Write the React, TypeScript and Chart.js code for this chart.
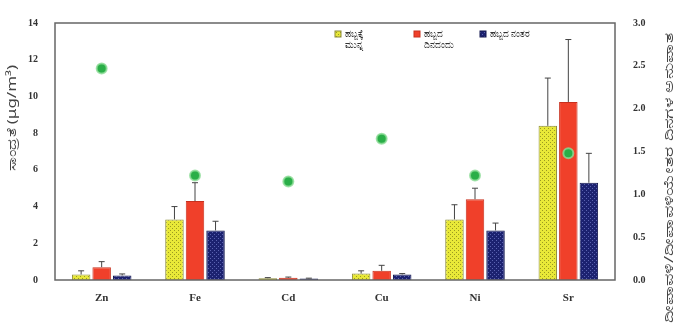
import React, { useEffect, useRef } from "react";
import { Chart, registerables } from "chart.js";

Chart.register(...registerables);

const categories = ["Zn", "Fe", "Cd", "Cu", "Ni", "Sr"];
const seriesNames = [["ಹಬ್ಬಕ್ಕೆ", "ಮುನ್ನ"], ["ಹಬ್ಬದ", "ದಿನದಂದು"], ["ಹಬ್ಬದ ನಂತರ"]];
const beforeValues = [0.3, 3.3, 0.1, 0.35, 3.3, 8.4];
const beforeErr = [0.2, 0.7, 0.03, 0.15, 0.8, 2.6];
const dayValues = [0.7, 4.3, 0.12, 0.5, 4.4, 9.7];
const dayErr = [0.3, 1.0, 0.04, 0.3, 0.6, 3.4];
const afterValues = [0.25, 2.7, 0.08, 0.3, 2.7, 5.3];
const afterErr = [0.08, 0.5, 0.02, 0.05, 0.4, 1.6];
const ratioValues = [2.47, 1.22, 1.15, 1.65, 1.22, 1.48];
const leftTicks = [0, 2, 4, 6, 8, 10, 12, 14];
const rightTicks = [0, 0.5, 1, 1.5, 2, 2.5, 3];
const leftTitle = "ಸಾಂದ್ರತೆ (μg/m³)";
const rightTitle = "ದೀಪಾವಳಿ/ದೀಪಾವಳಿಯೇತರ ದಿನಗಳ ಅನುಪಾತ";

function makePattern(bg: string, dot: string) {
  const c = document.createElement("canvas");
  c.width = 4;
  c.height = 4;
  const g = c.getContext("2d")!;
  g.fillStyle = bg;
  g.fillRect(0, 0, 4, 4);
  g.fillStyle = dot;
  g.fillRect(0, 0, 1, 1);
  g.fillRect(2, 2, 1, 1);
  return g.createPattern(c, "repeat")!;
}

function drawRotated(ctx: any, text: string, cx: number, cy: number, font: string, targetLen: number) {
  ctx.save();
  ctx.font = font;
  const w = ctx.measureText(text).width;
  ctx.translate(cx, cy);
  ctx.rotate(-Math.PI / 2);
  ctx.scale(targetLen / w, 1);
  ctx.fillText(text, 0, 0);
  ctx.restore();
}

export default function App() {
  const ref = useRef<HTMLCanvasElement>(null);
  useEffect(() => {
    const errs = [beforeErr, dayErr, afterErr];
    const vals = [beforeValues, dayValues, afterValues];
    const plugin = {
      id: "extras",
      afterDatasetsDraw(chart: any) {
        const ctx = chart.ctx;
        const ys = chart.scales.y;
        ctx.save();
        ctx.strokeStyle = "#444";
        ctx.lineWidth = 1;
        for (let d = 0; d < 3; d++) {
          const meta = chart.getDatasetMeta(d);
          meta.data.forEach((bar: any, j: number) => {
            const top = ys.getPixelForValue(vals[d][j]);
            const et = ys.getPixelForValue(vals[d][j] + errs[d][j]);
            ctx.beginPath();
            ctx.moveTo(bar.x, top);
            ctx.lineTo(bar.x, et);
            ctx.moveTo(bar.x - 3, et);
            ctx.lineTo(bar.x + 3, et);
            ctx.stroke();
          });
        }
        ctx.restore();
      },
      afterDraw(chart: any) {
        const ctx = chart.ctx;
        const a = chart.chartArea;
        ctx.save();
        ctx.strokeStyle = "#666";
        ctx.lineWidth = 1.5;
        ctx.strokeRect(a.left, a.top, a.right - a.left, a.bottom - a.top);
        // titles
        ctx.fillStyle = "#444";
        ctx.textAlign = "center";
        ctx.textBaseline = "middle";
        drawRotated(ctx, leftTitle, 13, 118, "12px 'Noto Sans', sans-serif", 106);
        drawRotated(ctx, rightTitle, 669, 178, "13px 'Noto Sans', sans-serif", 290);
        // legend
        const xs = [335, 414, 480];
        ctx.font = "9px 'Noto Sans', sans-serif";
        ctx.textAlign = "left";
        seriesNames.forEach((lines, i) => {
          const ds: any = chart.data.datasets[i];
          ctx.fillStyle = ds.backgroundColor;
          ctx.fillRect(xs[i], 31, 6, 6);
          ctx.strokeStyle = ds.borderColor;
          ctx.lineWidth = 1;
          ctx.strokeRect(xs[i], 31, 6, 6);
          ctx.fillStyle = "#333";
          lines.forEach((t, k) => ctx.fillText(t, xs[i] + 10, 34 + k * 11));
        });
        ctx.restore();
      },
    };
    const yellow = makePattern("#e8e838", "#9a9a20");
    const navy = makePattern("#1c2270", "#5a62b0");
    const chart = new Chart(ref.current!, {
      type: "bar",
      data: {
        labels: categories,
        datasets: [
          { type: "bar", label: seriesNames[0].join(" "), data: beforeValues, backgroundColor: yellow as any, borderColor: "#8a8a3a", borderWidth: 1, yAxisID: "y", order: 2 },
          { type: "bar", label: seriesNames[1].join(" "), data: dayValues, backgroundColor: "#f0402a", borderColor: "#c8301e", borderWidth: 1, yAxisID: "y", order: 2 },
          { type: "bar", label: seriesNames[2][0], data: afterValues, backgroundColor: navy as any, borderColor: "#141850", borderWidth: 1, yAxisID: "y", order: 2 },
          { type: "line", label: "ratio", data: ratioValues, showLine: false, pointRadius: 5, pointBackgroundColor: "#2aae48", pointBorderColor: "rgba(140,220,150,0.8)", pointBorderWidth: 2, yAxisID: "y1", order: 1 } as any,
        ],
      },
      options: {
        responsive: false,
        animation: false,
        layout: { padding: { top: 23, left: 0, right: 0, bottom: 0 } },
        datasets: { bar: { categoryPercentage: 0.66, barPercentage: 0.9 } },
        plugins: { legend: { display: false }, tooltip: { enabled: false } },
        scales: {
          x: {
            offset: true,
            grid: { display: false },
            border: { display: false },
            ticks: { color: "#333", font: { family: "'Liberation Serif'", weight: "bold", size: 11 }, padding: 4 },
            afterFit: (s: any) => { s.height = 52; },
          },
          y: {
            position: "left",
            min: 0,
            max: 14,
            afterBuildTicks: (s: any) => { s.ticks = leftTicks.map((v) => ({ value: v })); },
            grid: { display: false },
            border: { display: false },
            ticks: { color: "#333", font: { family: "'Liberation Serif'", weight: "bold", size: 10 }, padding: 9 },
            afterFit: (s: any) => { s.width = 55; },
          },
          y1: {
            position: "right",
            min: 0,
            max: 3,
            afterBuildTicks: (s: any) => { s.ticks = rightTicks.map((v) => ({ value: v })); },
            grid: { display: false },
            border: { display: false },
            ticks: { color: "#333", font: { family: "'Liberation Serif'", weight: "bold", size: 10 }, padding: 10, callback: (v: any) => Number(v).toFixed(1) },
            afterFit: (s: any) => { s.width = 71; },
          },
        },
      },
      plugins: [plugin],
    } as any);
    return () => chart.destroy();
  }, []);
  return (
    <div style={{ position: "fixed", left: 0, top: 0, width: 686, height: 332, background: "#fff" }}>
      <canvas ref={ref} width={686} height={332} />
    </div>
  );
}
